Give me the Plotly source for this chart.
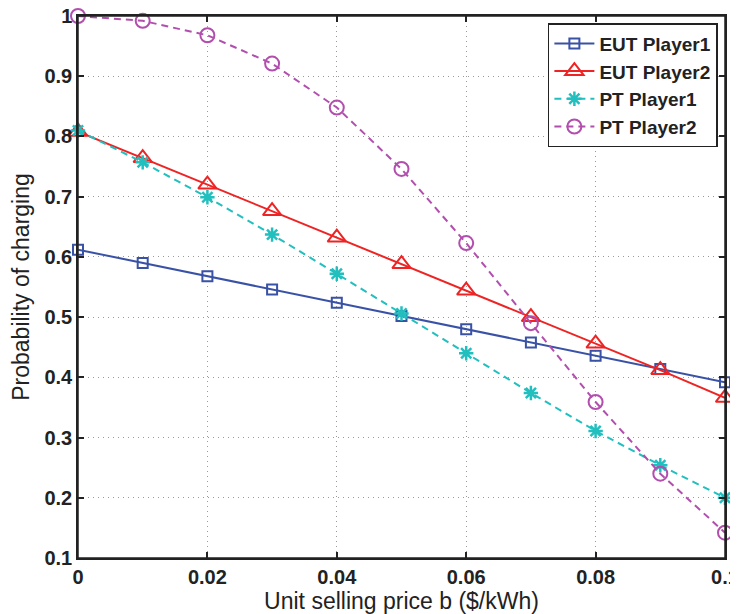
import plotly.graph_objects as go

x = [0, 0.01, 0.02, 0.03, 0.04, 0.05, 0.06, 0.07, 0.08, 0.09, 0.1]
eut_p1 = [0.612, 0.590, 0.568, 0.546, 0.524, 0.502, 0.480, 0.458, 0.436, 0.414, 0.392]
eut_p2 = [0.808, 0.764, 0.720, 0.676, 0.632, 0.588, 0.544, 0.500, 0.456, 0.412, 0.366]
pt_p1 = [0.810, 0.757, 0.699, 0.637, 0.572, 0.506, 0.440, 0.374, 0.311, 0.254, 0.200]
pt_p2 = [1.000, 0.992, 0.968, 0.921, 0.848, 0.746, 0.623, 0.490, 0.359, 0.240, 0.142]

xticks = [0, 0.02, 0.04, 0.06, 0.08, 0.1]
xticklabels = ["0", "0.02", "0.04", "0.06", "0.08", "0.1"]
yticks = [0.1, 0.2, 0.3, 0.4, 0.5, 0.6, 0.7, 0.8, 0.9, 1.0]
yticklabels = ["0.1", "0.2", "0.3", "0.4", "0.5", "0.6", "0.7", "0.8", "0.9", "1"]

FONT = "Liberation Sans, Arial"
INK = "#222"

fig = go.Figure()
fig.add_trace(go.Scatter(x=x, y=eut_p1, name="EUT Player1", mode="lines+markers", cliponaxis=False,
                         line=dict(color="#3A52A6", width=2),
                         marker=dict(symbol="square-open", size=10, color="#3A52A6", line=dict(width=2))))
fig.add_trace(go.Scatter(x=x, y=eut_p2, name="EUT Player2", mode="lines+markers", cliponaxis=False,
                         line=dict(color="#EE2424", width=2),
                         marker=dict(symbol="triangle-up-open", size=16, color="#EE2424", line=dict(width=2))))
fig.add_trace(go.Scatter(x=x, y=pt_p1, name="PT Player1", mode="lines+markers", cliponaxis=False,
                         line=dict(color="#22BFBF", width=2, dash="7px,5px"),
                         marker=dict(symbol="asterisk-open", size=12, color="#22BFBF", line=dict(width=2.5, color="#22BFBF"))))
fig.add_trace(go.Scatter(x=x, y=pt_p2, name="PT Player2", mode="lines+markers", cliponaxis=False,
                         line=dict(color="#B24FAE", width=2, dash="7px,5px"),
                         marker=dict(symbol="circle-open", size=14, color="#B24FAE", line=dict(width=2))))

axis_common = dict(showline=True, linecolor=INK, linewidth=1.5, mirror="ticks",
                   ticks="inside", ticklen=6, tickcolor=INK, tickwidth=1.5,
                   showgrid=True, gridcolor="#9a9a9a", griddash="1px,4px", gridwidth=1.3,
                   zeroline=False, ticklabeloverflow="allow",
                   tickfont=dict(family=FONT, size=20, color=INK, weight="bold"))

fig.update_xaxes(range=[0, 0.1], tickvals=xticks, ticktext=xticklabels, automargin="bottom",
                 title=dict(text="Unit selling price b ($/kWh)", standoff=0,
                            font=dict(family=FONT, size=23, color=INK)),
                 **axis_common)
fig.update_yaxes(range=[0.1, 1.0], tickvals=yticks, ticktext=yticklabels, automargin="left",
                 title=dict(text="Probability of charging", standoff=10,
                            font=dict(family=FONT, size=23, color=INK)),
                 **axis_common)

# plot frame (top/right box edges)
fig.add_shape(type="rect", xref="paper", yref="paper", x0=0, y0=0, x1=1, y1=1,
              line=dict(color=INK, width=1.5), fillcolor="rgba(0,0,0,0)", layer="above")

# page body has an 8px default margin, so the figure starts at (8, 8) in the window
fig.update_layout(
    width=738, height=614,
    margin=dict(l=70, r=21, t=8, b=64),
    plot_bgcolor="white", paper_bgcolor="white",
    font=dict(family=FONT, color=INK),
    legend=dict(x=0.989, y=0.987, xanchor="right", yanchor="top",
                bgcolor="white", bordercolor=INK, borderwidth=1.5,
                font=dict(family=FONT, size=19, color=INK, weight="bold"),
                tracegroupgap=0, itemwidth=40),
    showlegend=True,
)

fig.write_html("out.html")
